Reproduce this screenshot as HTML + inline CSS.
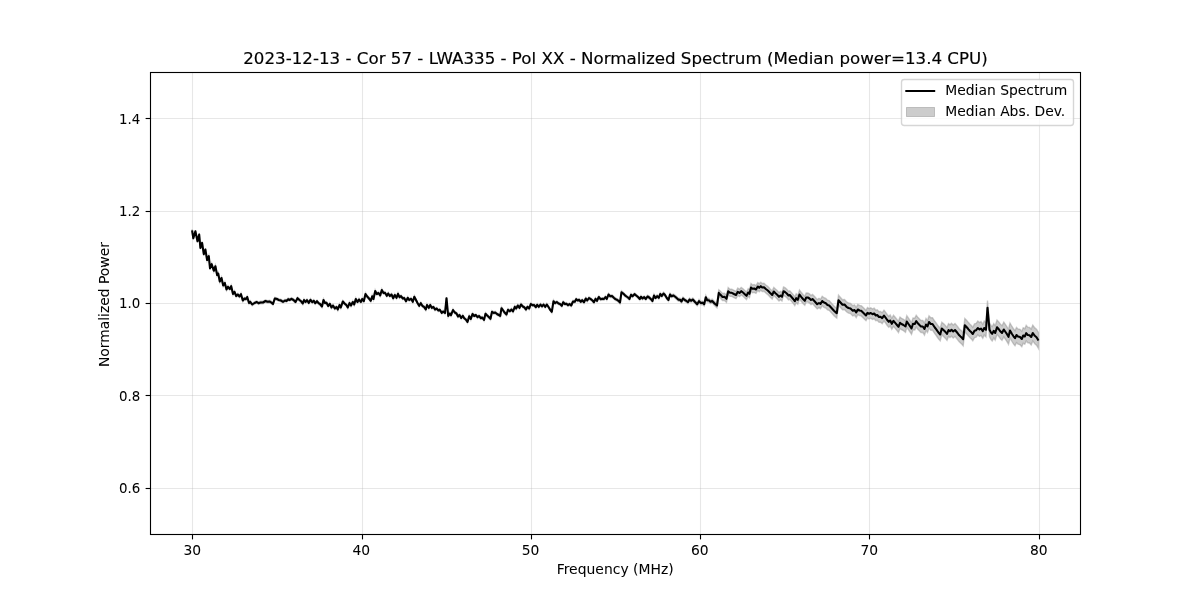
<!DOCTYPE html>
<html lang="en"><head><meta charset="utf-8"><title>Normalized Spectrum</title>
<style>html,body{margin:0;padding:0;background:#fff;width:1200px;height:600px;overflow:hidden}svg{display:block}text{font-family:"DejaVu Sans","Liberation Sans",sans-serif;fill:#000;stroke:#000;stroke-width:0.04px}</style></head><body>
<svg width="1200" height="600" viewBox="0 0 1200 600">
<rect width="1200" height="600" fill="#fff"/>
<clipPath id="c"><rect x="150" y="72" width="930" height="462"/></clipPath>
<g clip-path="url(#c)">
<polygon points="192.1,229.2 193.3,237.1 195.4,230.1 197.5,240.1 199.2,233.4 200.4,246.7 202.1,241.7 203.8,253.0 205.4,248.4 207.1,258.8 208.8,255.1 210.0,267.1 211.7,263.0 213.8,269.6 215.4,265.1 217.1,273.8 218.2,272.3 219.8,280.3 221.5,276.8 223.2,284.3 224.8,281.8 226.5,288.3 228.0,285.6 229.8,287.8 231.2,285.0 233.0,292.8 234.5,290.6 236.2,294.8 237.8,293.3 239.5,295.3 241.0,293.0 242.8,299.3 244.5,297.3 245.8,298.0 247.2,295.8 249.0,301.8 250.2,300.6 252.2,303.3 254.5,301.8 256.8,300.8 258.5,302.0 260.5,301.3 263.0,301.3 265.5,299.8 267.5,300.6 269.8,300.3 271.4,301.4 273.0,302.8 274.8,297.3 277.0,297.8 278.5,298.7 280.0,299.0 281.5,299.6 283.0,300.6 285.0,299.3 286.5,299.8 288.2,298.0 289.5,298.8 291.5,297.6 293.5,298.8 295.5,300.8 297.5,297.0 299.5,298.8 301.0,300.0 302.8,302.3 304.0,298.8 305.5,300.8 307.0,299.0 308.8,301.6 310.5,298.6 312.2,301.0 313.8,299.6 315.2,302.0 317.0,300.0 318.5,302.0 320.0,302.8 322.0,305.3 323.5,298.8 325.0,301.8 326.5,301.6 328.2,304.8 329.8,302.6 331.5,306.3 333.0,304.3 334.8,307.3 336.5,305.8 337.8,308.3 339.5,303.8 340.8,306.3 342.8,300.3 344.5,302.3 346.2,303.6 347.8,306.3 349.5,301.8 351.0,304.3 352.8,300.8 354.2,303.3 355.8,297.8 357.5,300.8 359.0,298.3 360.8,300.8 362.2,297.8 363.8,300.0 365.5,292.8 367.2,295.3 369.0,297.3 370.8,299.6 372.2,295.0 373.5,297.8 375.2,289.8 376.8,292.8 378.5,291.8 380.2,294.3 381.8,288.8 383.5,291.8 385.0,291.6 386.8,294.6 388.2,292.3 389.8,294.8 391.5,293.3 393.2,297.0 394.8,293.8 396.5,296.6 398.0,292.6 399.5,296.0 401.0,295.0 402.8,297.3 404.2,296.8 406.0,300.0 407.8,296.6 409.2,298.8 411.0,297.6 412.8,300.6 414.3,295.6 416.0,298.8 417.5,301.8 419.2,304.6 420.8,302.0 422.5,304.8 424.0,305.6 425.8,308.3 427.0,303.8 428.8,306.6 430.2,303.8 431.8,306.6 433.5,305.8 435.0,308.3 436.8,307.3 438.2,309.3 439.8,308.6 441.8,311.6 443.2,310.3 445.0,311.8 446.5,297.0 448.2,314.8 449.8,312.3 451.0,314.0 453.0,308.8 454.8,311.3 456.5,312.3 458.0,315.3 459.5,313.8 461.2,316.8 462.8,314.6 464.2,317.0 465.8,318.3 467.5,320.8 469.2,315.0 470.8,317.8 472.5,312.8 474.2,314.8 475.8,313.8 477.5,316.0 479.0,314.8 480.8,317.0 482.2,316.3 484.0,318.8 485.5,312.6 487.2,314.3 488.8,315.8 490.5,317.6 492.0,310.6 493.8,311.8 495.2,311.3 497.0,312.8 498.8,313.8 500.2,314.8 501.5,307.0 503.2,309.3 504.8,311.6 506.5,313.3 508.0,308.6 509.8,310.0 511.5,308.3 513.0,310.3 514.8,305.6 516.2,307.3 517.8,304.3 519.5,306.6 521.0,303.3 522.8,305.3 524.2,306.0 526.0,308.3 527.5,305.6 529.2,307.3 530.8,302.8 532.5,304.0 534.0,303.8 535.8,306.0 537.2,303.6 538.8,305.6 540.5,303.3 542.0,305.3 543.5,303.3 545.2,305.6 546.8,303.3 548.5,305.8 550.0,308.3 551.8,310.6 553.5,300.0 555.0,302.0 556.8,300.8 558.5,302.3 560.0,302.8 561.8,304.6 563.2,301.0 564.8,302.8 566.5,302.6 568.0,304.0 569.5,302.8 571.2,304.3 573.0,300.3 574.8,300.6 576.2,298.0 577.8,299.3 579.2,298.6 580.8,300.6 582.2,299.0 584.0,301.0 585.8,297.3 587.2,299.3 589.0,296.8 590.8,298.0 592.5,299.3 594.0,301.0 595.5,297.6 597.0,299.6 598.8,295.8 600.5,298.0 602.5,297.6 604.0,297.8 605.5,295.8 606.8,297.8 608.5,293.3 610.2,295.0 612.0,294.8 613.8,296.6 615.4,297.8 617.0,298.5 618.5,299.5 620.0,301.2 621.5,290.9 623.5,292.5 625.0,294.1 626.5,295.2 628.0,296.2 629.5,297.7 631.0,293.5 632.5,294.9 634.5,292.9 636.2,294.2 638.0,295.7 639.8,297.7 641.0,295.5 642.5,297.2 644.2,295.9 645.8,297.6 647.5,295.1 649.2,296.1 651.0,297.8 652.5,299.6 654.0,294.1 655.5,296.6 657.2,294.8 658.8,296.4 660.2,292.6 661.8,294.6 663.5,292.1 665.0,293.6 666.8,296.6 668.5,298.6 670.0,293.1 671.5,294.8 673.5,294.1 675.5,295.5 677.2,297.0 678.5,298.3 680.0,298.3 681.5,300.0 683.0,297.0 684.8,298.5 686.2,299.3 688.0,300.7 689.5,298.0 691.0,299.3 692.8,297.9 694.8,300.2 697.2,302.6 699.0,299.5 700.8,301.3 702.8,301.1 704.2,302.4 705.8,295.4 707.2,298.4 708.8,298.3 710.5,299.9 712.2,299.1 714.5,301.5 717.0,303.1 718.8,289.8 720.5,291.3 722.5,293.5 724.5,293.2 726.5,295.2 728.2,287.6 730.0,289.2 731.8,289.2 734.0,290.3 736.0,291.3 737.8,288.1 739.5,289.3 741.2,287.5 743.0,288.7 744.8,290.4 746.5,292.0 748.2,288.7 749.5,290.0 751.0,283.6 752.5,284.9 754.2,284.6 756.0,285.6 757.8,282.6 759.2,283.8 760.8,282.2 762.2,283.5 764.0,283.2 765.8,285.0 767.8,286.4 770.0,288.7 772.2,290.9 773.8,287.4 775.5,289.1 777.2,290.6 779.0,292.6 780.5,291.3 782.0,292.6 783.5,287.0 785.0,287.7 786.8,289.2 788.5,291.2 789.8,290.7 791.5,292.6 793.2,294.6 794.8,296.8 796.2,293.8 797.8,295.4 799.5,290.0 801.2,292.3 803.0,294.5 804.8,296.3 806.2,293.0 807.8,292.9 809.5,293.9 811.0,295.4 812.5,294.4 814.8,296.8 817.2,299.5 819.0,298.3 820.5,299.3 822.2,296.2 824.0,297.7 825.8,298.4 827.5,300.2 829.2,300.6 831.5,303.1 834.0,305.9 835.4,307.2 836.8,308.2 838.5,295.2 840.5,297.5 842.5,299.8 844.5,299.5 846.5,301.8 848.5,302.9 850.5,303.4 852.8,305.7 854.5,304.9 856.2,307.4 857.8,304.4 859.5,305.4 861.2,305.7 863.5,307.8 866.0,310.3 867.5,307.6 869.0,308.6 870.8,307.8 872.5,309.0 874.2,308.2 875.8,310.2 877.2,309.7 879.0,311.7 880.5,311.4 882.2,312.8 884.0,310.1 885.5,312.1 887.2,314.5 888.8,316.3 890.2,315.0 891.8,318.3 893.5,315.2 895.2,317.2 897.0,319.4 898.5,321.1 900.0,317.1 901.5,318.3 903.5,319.3 905.5,320.7 906.8,315.7 908.5,318.2 910.0,320.4 911.5,322.6 913.0,317.9 914.8,318.1 916.2,315.3 917.8,317.2 919.5,319.0 921.0,320.5 922.8,320.5 924.5,322.9 926.0,318.4 927.5,320.4 929.0,315.9 930.8,317.8 932.5,317.8 934.8,321.3 936.1,322.9 937.5,324.9 938.9,326.8 940.2,328.2 941.8,322.2 944.0,324.1 945.5,325.6 947.0,327.6 948.5,323.6 950.0,324.8 951.5,323.3 953.2,325.0 955.0,323.5 957.5,326.4 959.0,328.5 960.5,329.9 961.9,331.0 963.2,332.5 964.8,318.5 967.0,320.8 968.5,322.6 970.0,324.2 971.4,325.5 972.8,327.2 974.5,323.9 976.2,323.3 977.8,321.1 979.5,322.6 981.0,321.5 982.8,324.2 984.2,321.0 986.0,322.7 987.5,300.6 989.5,322.7 991.0,325.4 992.2,326.6 993.8,323.6 995.2,325.8 997.0,320.0 999.0,322.2 1000.5,324.3 1002.0,325.7 1003.8,322.1 1005.5,324.6 1007.0,326.8 1008.5,329.3 1010.0,323.0 1012.0,326.5 1013.5,328.8 1015.0,330.6 1016.5,327.4 1018.0,328.9 1020.0,329.3 1021.8,331.3 1023.2,327.8 1024.8,328.7 1026.2,325.4 1027.8,327.2 1029.5,327.4 1031.2,329.1 1032.8,325.1 1034.8,327.9 1036.5,329.2 1038.5,332.5 1038.5,348.5 1036.5,345.2 1034.8,343.7 1032.8,340.9 1031.2,344.9 1029.5,343.0 1027.8,342.8 1026.2,341.0 1024.8,344.3 1023.2,343.2 1021.8,346.7 1020.0,344.7 1018.0,344.1 1016.5,342.6 1015.0,345.8 1013.5,343.9 1012.0,341.5 1010.0,338.0 1008.5,344.3 1007.0,341.7 1005.5,339.4 1003.8,336.9 1002.0,340.3 1000.5,338.9 999.0,336.8 997.0,334.4 995.2,340.2 993.8,338.0 992.2,341.0 991.0,339.6 989.5,336.9 987.5,314.8 986.0,336.9 984.2,335.0 982.8,338.2 981.0,335.5 979.5,336.4 977.8,334.9 976.2,337.1 974.5,337.7 972.8,340.8 971.4,339.1 970.0,337.8 968.5,336.1 967.0,334.2 964.8,331.9 963.2,345.9 961.9,344.3 960.5,343.1 959.0,341.6 957.5,339.6 955.0,336.5 953.2,338.0 951.5,336.3 950.0,337.6 948.5,336.4 947.0,340.4 945.5,338.4 944.0,336.9 941.8,334.8 940.2,340.8 938.9,339.4 937.5,337.5 936.1,335.4 934.8,333.7 932.5,330.2 930.8,330.2 929.0,328.1 927.5,332.6 926.0,330.6 924.5,335.1 922.8,332.5 921.0,332.5 919.5,331.0 917.8,329.2 916.2,327.1 914.8,329.9 913.0,329.7 911.5,334.4 910.0,332.0 908.5,329.8 906.8,327.3 905.5,332.3 903.5,330.7 901.5,329.7 900.0,328.5 898.5,332.5 897.0,330.6 895.2,328.4 893.5,326.4 891.8,329.3 890.2,326.0 888.8,327.3 887.2,325.5 885.5,322.9 884.0,320.9 882.2,323.6 880.5,322.2 879.0,322.3 877.2,320.3 875.8,320.8 874.2,318.8 872.5,319.4 870.8,318.2 869.0,319.0 867.5,318.0 866.0,320.7 863.5,318.2 861.2,315.9 859.5,315.6 857.8,314.6 856.2,317.6 854.5,315.1 852.8,315.9 850.5,313.6 848.5,313.1 846.5,311.8 844.5,309.5 842.5,309.8 840.5,307.5 838.5,305.2 836.8,318.2 835.4,317.1 834.0,315.7 831.5,312.9 829.2,310.4 827.5,309.8 825.8,308.0 824.0,307.3 822.2,305.8 820.5,308.7 819.0,307.7 817.2,308.9 814.8,306.2 812.5,303.6 811.0,304.6 809.5,303.1 807.8,302.1 806.2,302.0 804.8,305.3 803.0,303.5 801.2,301.3 799.5,299.0 797.8,304.2 796.2,302.6 794.8,305.6 793.2,303.4 791.5,301.4 789.8,299.3 788.5,299.8 786.8,297.8 785.0,296.3 783.5,295.4 782.0,301.0 780.5,299.7 779.0,301.0 777.2,299.0 775.5,297.3 773.8,295.6 772.2,299.1 770.0,296.9 767.8,294.6 765.8,293.0 764.0,291.2 762.2,291.5 760.8,290.2 759.2,291.8 757.8,290.4 756.0,293.4 754.2,292.4 752.5,292.7 751.0,291.4 749.5,297.6 748.2,296.3 746.5,299.6 744.8,298.0 743.0,296.3 741.2,294.9 739.5,296.7 737.8,295.5 736.0,298.7 734.0,297.7 731.8,296.4 730.0,296.4 728.2,294.8 726.5,302.4 724.5,300.4 722.5,300.5 720.5,298.3 718.8,295.9 717.0,307.9 714.5,305.5 712.2,302.9 710.5,303.7 708.8,302.1 707.2,302.0 705.8,299.0 704.2,306.0 702.8,304.5 700.8,304.7 699.0,302.9 697.2,305.8 694.8,303.4 692.8,301.1 691.0,302.3 689.5,301.0 688.0,303.7 686.2,302.3 684.8,301.5 683.0,300.0 681.5,303.0 680.0,301.3 678.5,301.3 677.2,300.0 675.5,298.5 673.5,296.9 671.5,297.6 670.0,295.9 668.5,301.4 666.8,299.4 665.0,296.4 663.5,294.9 661.8,297.4 660.2,295.4 658.8,299.2 657.2,297.6 655.5,299.4 654.0,296.9 652.5,302.4 651.0,300.6 649.2,298.9 647.5,297.9 645.8,300.4 644.2,298.5 642.5,299.8 641.0,298.1 639.8,300.3 638.0,298.3 636.2,296.8 634.5,295.5 632.5,297.5 631.0,296.1 629.5,300.3 628.0,298.8 626.5,297.8 625.0,296.7 623.5,295.1 621.5,293.5 620.0,303.8 618.5,302.1 617.0,301.1 615.4,300.3 613.8,299.0 612.0,297.2 610.2,297.4 608.5,295.7 606.8,300.2 605.5,298.2 604.0,300.2 602.5,300.0 600.5,300.4 598.8,298.2 597.0,302.0 595.5,300.0 594.0,303.4 592.5,301.7 590.8,300.4 589.0,299.2 587.2,301.7 585.8,299.7 584.0,303.4 582.2,301.4 580.8,303.0 579.2,301.0 577.8,301.7 576.2,300.4 574.8,303.0 573.0,302.7 571.2,306.7 569.5,305.2 568.0,306.4 566.5,305.0 564.8,305.2 563.2,303.4 561.8,307.0 560.0,305.2 558.5,304.7 556.8,303.2 555.0,304.4 553.5,302.4 551.8,313.0 550.0,310.7 548.5,308.2 546.8,305.7 545.2,308.0 543.5,305.7 542.0,307.7 540.5,305.7 538.8,308.0 537.2,306.0 535.8,308.4 534.0,306.2 532.5,306.4 530.8,305.2 529.2,309.7 527.5,308.0 526.0,310.7 524.2,308.4 522.8,307.7 521.0,305.7 519.5,309.0 517.8,306.7 516.2,309.7 514.8,308.0 513.0,312.7 511.5,310.7 509.8,312.4 508.0,311.0 506.5,315.7 504.8,314.0 503.2,311.7 501.5,309.4 500.2,317.2 498.8,316.2 497.0,315.2 495.2,313.7 493.8,314.2 492.0,313.0 490.5,320.0 488.8,318.2 487.2,316.7 485.5,315.0 484.0,321.2 482.2,318.7 480.8,319.4 479.0,317.2 477.5,318.4 475.8,316.2 474.2,317.2 472.5,315.2 470.8,320.2 469.2,317.4 467.5,323.2 465.8,320.7 464.2,319.4 462.8,317.0 461.2,319.2 459.5,316.2 458.0,317.7 456.5,314.7 454.8,313.7 453.0,311.2 451.0,316.4 449.8,314.7 448.2,317.2 446.5,299.4 445.0,314.2 443.2,312.7 441.8,314.0 439.8,311.0 438.2,311.7 436.8,309.7 435.0,310.7 433.5,308.2 431.8,309.0 430.2,306.2 428.8,309.0 427.0,306.2 425.8,310.7 424.0,308.0 422.5,307.2 420.8,304.4 419.2,307.0 417.5,304.2 416.0,301.2 414.3,298.0 412.8,303.0 411.0,300.0 409.2,301.2 407.8,299.0 406.0,302.4 404.2,299.2 402.8,299.7 401.0,297.4 399.5,298.4 398.0,295.0 396.5,299.0 394.8,296.2 393.2,299.4 391.5,295.7 389.8,297.2 388.2,294.7 386.8,297.0 385.0,294.0 383.5,294.2 381.8,291.2 380.2,296.7 378.5,294.2 376.8,295.2 375.2,292.2 373.5,300.2 372.2,297.4 370.8,302.0 369.0,299.7 367.2,297.7 365.5,295.2 363.8,302.4 362.2,300.2 360.8,303.2 359.0,300.7 357.5,303.2 355.8,300.2 354.2,305.7 352.8,303.2 351.0,306.7 349.5,304.2 347.8,308.7 346.2,306.0 344.5,304.7 342.8,302.7 340.8,308.7 339.5,306.2 337.8,310.7 336.5,308.2 334.8,309.7 333.0,306.7 331.5,308.7 329.8,305.0 328.2,307.2 326.5,304.0 325.0,304.2 323.5,301.2 322.0,307.7 320.0,305.2 318.5,304.4 317.0,302.4 315.2,304.4 313.8,302.0 312.2,303.4 310.5,301.0 308.8,304.0 307.0,301.4 305.5,303.2 304.0,301.2 302.8,304.7 301.0,302.4 299.5,301.2 297.5,299.4 295.5,303.2 293.5,301.2 291.5,300.0 289.5,301.2 288.2,300.4 286.5,302.2 285.0,301.7 283.0,303.0 281.5,302.0 280.0,301.4 278.5,301.1 277.0,300.2 274.8,299.7 273.0,305.2 271.4,303.8 269.8,302.7 267.5,303.0 265.5,302.2 263.0,303.7 260.5,303.7 258.5,304.4 256.8,303.2 254.5,304.2 252.2,305.7 250.2,303.0 249.0,304.2 247.2,298.2 245.8,300.4 244.5,299.7 242.8,301.7 241.0,295.4 239.5,297.7 237.8,295.7 236.2,297.2 234.5,293.0 233.0,295.2 231.2,287.4 229.8,290.2 228.0,288.0 226.5,290.7 224.8,284.2 223.2,286.7 221.5,279.2 219.8,282.7 218.2,274.7 217.1,276.2 215.4,267.4 213.8,272.0 211.7,265.4 210.0,269.5 208.8,257.4 207.1,261.2 205.4,250.8 203.8,255.4 202.1,244.1 200.4,249.1 199.2,235.8 197.5,242.4 195.4,232.4 193.3,239.5 192.1,231.6" fill="#808080" fill-opacity="0.4" stroke="#808080" stroke-opacity="0.4" stroke-width="1.39" stroke-linejoin="miter"/>
<g stroke="#b0b0b0" stroke-opacity="0.3" stroke-width="1.11">
<line x1="192.5" y1="72" x2="192.5" y2="534"/>
<line x1="362.5" y1="72" x2="362.5" y2="534"/>
<line x1="531.5" y1="72" x2="531.5" y2="534"/>
<line x1="700.5" y1="72" x2="700.5" y2="534"/>
<line x1="869.5" y1="72" x2="869.5" y2="534"/>
<line x1="1039.5" y1="72" x2="1039.5" y2="534"/>
<line x1="150" y1="488.5" x2="1080" y2="488.5"/>
<line x1="150" y1="395.5" x2="1080" y2="395.5"/>
<line x1="150" y1="303.5" x2="1080" y2="303.5"/>
<line x1="150" y1="211.5" x2="1080" y2="211.5"/>
<line x1="150" y1="118.5" x2="1080" y2="118.5"/>
</g>
<polyline points="192.1,230.4 193.3,238.3 195.4,231.2 197.5,241.2 199.2,234.6 200.4,247.9 202.1,242.9 203.8,254.2 205.4,249.6 207.1,260.0 208.8,256.2 210.0,268.3 211.7,264.2 213.8,270.8 215.4,266.2 217.1,275.0 218.2,273.5 219.8,281.5 221.5,278.0 223.2,285.5 224.8,283.0 226.5,289.5 228.0,286.8 229.8,289.0 231.2,286.2 233.0,294.0 234.5,291.8 236.2,296.0 237.8,294.5 239.5,296.5 241.0,294.2 242.8,300.5 244.5,298.5 245.8,299.2 247.2,297.0 249.0,303.0 250.2,301.8 252.2,304.5 254.5,303.0 256.8,302.0 258.5,303.2 260.5,302.5 263.0,302.5 265.5,301.0 267.5,301.8 269.8,301.5 271.4,302.6 273.0,304.0 274.8,298.5 277.0,299.0 278.5,299.9 280.0,300.2 281.5,300.8 283.0,301.8 285.0,300.5 286.5,301.0 288.2,299.2 289.5,300.0 291.5,298.8 293.5,300.0 295.5,302.0 297.5,298.2 299.5,300.0 301.0,301.2 302.8,303.5 304.0,300.0 305.5,302.0 307.0,300.2 308.8,302.8 310.5,299.8 312.2,302.2 313.8,300.8 315.2,303.2 317.0,301.2 318.5,303.2 320.0,304.0 322.0,306.5 323.5,300.0 325.0,303.0 326.5,302.8 328.2,306.0 329.8,303.8 331.5,307.5 333.0,305.5 334.8,308.5 336.5,307.0 337.8,309.5 339.5,305.0 340.8,307.5 342.8,301.5 344.5,303.5 346.2,304.8 347.8,307.5 349.5,303.0 351.0,305.5 352.8,302.0 354.2,304.5 355.8,299.0 357.5,302.0 359.0,299.5 360.8,302.0 362.2,299.0 363.8,301.2 365.5,294.0 367.2,296.5 369.0,298.5 370.8,300.8 372.2,296.2 373.5,299.0 375.2,291.0 376.8,294.0 378.5,293.0 380.2,295.5 381.8,290.0 383.5,293.0 385.0,292.8 386.8,295.8 388.2,293.5 389.8,296.0 391.5,294.5 393.2,298.2 394.8,295.0 396.5,297.8 398.0,293.8 399.5,297.2 401.0,296.2 402.8,298.5 404.2,298.0 406.0,301.2 407.8,297.8 409.2,300.0 411.0,298.8 412.8,301.8 414.3,296.8 416.0,300.0 417.5,303.0 419.2,305.8 420.8,303.2 422.5,306.0 424.0,306.8 425.8,309.5 427.0,305.0 428.8,307.8 430.2,305.0 431.8,307.8 433.5,307.0 435.0,309.5 436.8,308.5 438.2,310.5 439.8,309.8 441.8,312.8 443.2,311.5 445.0,313.0 446.5,298.2 448.2,316.0 449.8,313.5 451.0,315.2 453.0,310.0 454.8,312.5 456.5,313.5 458.0,316.5 459.5,315.0 461.2,318.0 462.8,315.8 464.2,318.2 465.8,319.5 467.5,322.0 469.2,316.2 470.8,319.0 472.5,314.0 474.2,316.0 475.8,315.0 477.5,317.2 479.0,316.0 480.8,318.2 482.2,317.5 484.0,320.0 485.5,313.8 487.2,315.5 488.8,317.0 490.5,318.8 492.0,311.8 493.8,313.0 495.2,312.5 497.0,314.0 498.8,315.0 500.2,316.0 501.5,308.2 503.2,310.5 504.8,312.8 506.5,314.5 508.0,309.8 509.8,311.2 511.5,309.5 513.0,311.5 514.8,306.8 516.2,308.5 517.8,305.5 519.5,307.8 521.0,304.5 522.8,306.5 524.2,307.2 526.0,309.5 527.5,306.8 529.2,308.5 530.8,304.0 532.5,305.2 534.0,305.0 535.8,307.2 537.2,304.8 538.8,306.8 540.5,304.5 542.0,306.5 543.5,304.5 545.2,306.8 546.8,304.5 548.5,307.0 550.0,309.5 551.8,311.8 553.5,301.2 555.0,303.2 556.8,302.0 558.5,303.5 560.0,304.0 561.8,305.8 563.2,302.2 564.8,304.0 566.5,303.8 568.0,305.2 569.5,304.0 571.2,305.5 573.0,301.5 574.8,301.8 576.2,299.2 577.8,300.5 579.2,299.8 580.8,301.8 582.2,300.2 584.0,302.2 585.8,298.5 587.2,300.5 589.0,298.0 590.8,299.2 592.5,300.5 594.0,302.2 595.5,298.8 597.0,300.8 598.8,297.0 600.5,299.2 602.5,298.8 604.0,299.0 605.5,297.0 606.8,299.0 608.5,294.5 610.2,296.2 612.0,296.0 613.8,297.8 615.4,299.1 617.0,299.8 618.5,300.8 620.0,302.5 621.5,292.2 623.5,293.8 625.0,295.4 626.5,296.5 628.0,297.5 629.5,299.0 631.0,294.8 632.5,296.2 634.5,294.2 636.2,295.5 638.0,297.0 639.8,299.0 641.0,296.8 642.5,298.5 644.2,297.2 645.8,299.0 647.5,296.5 649.2,297.5 651.0,299.2 652.5,301.0 654.0,295.5 655.5,298.0 657.2,296.2 658.8,297.8 660.2,294.0 661.8,296.0 663.5,293.5 665.0,295.0 666.8,298.0 668.5,300.0 670.0,294.5 671.5,296.2 673.5,295.5 675.5,297.0 677.2,298.5 678.5,299.8 680.0,299.8 681.5,301.5 683.0,298.5 684.8,300.0 686.2,300.8 688.0,302.2 689.5,299.5 691.0,300.8 692.8,299.5 694.8,301.8 697.2,304.2 699.0,301.2 700.8,303.0 702.8,302.8 704.2,304.2 705.8,297.2 707.2,300.2 708.8,300.2 710.5,301.8 712.2,301.0 714.5,303.5 717.0,305.5 718.8,292.8 720.5,294.8 722.5,297.0 724.5,296.8 726.5,298.8 728.2,291.2 730.0,292.8 731.8,292.8 734.0,294.0 736.0,295.0 737.8,291.8 739.5,293.0 741.2,291.2 743.0,292.5 744.8,294.2 746.5,295.8 748.2,292.5 749.5,293.8 751.0,287.5 752.5,288.8 754.2,288.5 756.0,289.5 757.8,286.5 759.2,287.8 760.8,286.2 762.2,287.5 764.0,287.2 765.8,289.0 767.8,290.5 770.0,292.8 772.2,295.0 773.8,291.5 775.5,293.2 777.2,294.8 779.0,296.8 780.5,295.5 782.0,296.8 783.5,291.2 785.0,292.0 786.8,293.5 788.5,295.5 789.8,295.0 791.5,297.0 793.2,299.0 794.8,301.2 796.2,298.2 797.8,299.8 799.5,294.5 801.2,296.8 803.0,299.0 804.8,300.8 806.2,297.5 807.8,297.5 809.5,298.5 811.0,300.0 812.5,299.0 814.8,301.5 817.2,304.2 819.0,303.0 820.5,304.0 822.2,301.0 824.0,302.5 825.8,303.2 827.5,305.0 829.2,305.5 831.5,308.0 834.0,310.8 835.4,312.1 836.8,313.2 838.5,300.2 840.5,302.5 842.5,304.8 844.5,304.5 846.5,306.8 848.5,308.0 850.5,308.5 852.8,310.8 854.5,310.0 856.2,312.5 857.8,309.5 859.5,310.5 861.2,310.8 863.5,313.0 866.0,315.5 867.5,312.8 869.0,313.8 870.8,313.0 872.5,314.2 874.2,313.5 875.8,315.5 877.2,315.0 879.0,317.0 880.5,316.8 882.2,318.2 884.0,315.5 885.5,317.5 887.2,320.0 888.8,321.8 890.2,320.5 891.8,323.8 893.5,320.8 895.2,322.8 897.0,325.0 898.5,326.8 900.0,322.8 901.5,324.0 903.5,325.0 905.5,326.5 906.8,321.5 908.5,324.0 910.0,326.2 911.5,328.5 913.0,323.8 914.8,324.0 916.2,321.2 917.8,323.2 919.5,325.0 921.0,326.5 922.8,326.5 924.5,329.0 926.0,324.5 927.5,326.5 929.0,322.0 930.8,324.0 932.5,324.0 934.8,327.5 936.1,329.2 937.5,331.2 938.9,333.1 940.2,334.5 941.8,328.5 944.0,330.5 945.5,332.0 947.0,334.0 948.5,330.0 950.0,331.2 951.5,329.8 953.2,331.5 955.0,330.0 957.5,333.0 959.0,335.1 960.5,336.5 961.9,337.7 963.2,339.2 964.8,325.2 967.0,327.5 968.5,329.4 970.0,331.0 971.4,332.3 972.8,334.0 974.5,330.8 976.2,330.2 977.8,328.0 979.5,329.5 981.0,328.5 982.8,331.2 984.2,328.0 986.0,329.8 987.5,307.7 989.5,329.8 991.0,332.5 992.2,333.8 993.8,330.8 995.2,333.0 997.0,327.2 999.0,329.5 1000.5,331.6 1002.0,333.0 1003.8,329.5 1005.5,332.0 1007.0,334.2 1008.5,336.8 1010.0,330.5 1012.0,334.0 1013.5,336.3 1015.0,338.2 1016.5,335.0 1018.0,336.5 1020.0,337.0 1021.8,339.0 1023.2,335.5 1024.8,336.5 1026.2,333.2 1027.8,335.0 1029.5,335.2 1031.2,337.0 1032.8,333.0 1034.8,335.8 1036.5,337.2 1038.5,340.5" fill="none" stroke="#000" stroke-width="2.08" stroke-linejoin="round" stroke-linecap="butt"/>
</g>
<g stroke="#000" stroke-width="1.11">
<line x1="192.5" y1="534.5" x2="192.5" y2="539.40"/>
<line x1="362.5" y1="534.5" x2="362.5" y2="539.40"/>
<line x1="531.5" y1="534.5" x2="531.5" y2="539.40"/>
<line x1="700.5" y1="534.5" x2="700.5" y2="539.40"/>
<line x1="869.5" y1="534.5" x2="869.5" y2="539.40"/>
<line x1="1039.5" y1="534.5" x2="1039.5" y2="539.40"/>
<line x1="145.60" y1="488.5" x2="150.5" y2="488.5"/>
<line x1="145.60" y1="395.5" x2="150.5" y2="395.5"/>
<line x1="145.60" y1="303.5" x2="150.5" y2="303.5"/>
<line x1="145.60" y1="211.5" x2="150.5" y2="211.5"/>
<line x1="145.60" y1="118.5" x2="150.5" y2="118.5"/>
</g>
<rect x="150.5" y="72.5" width="930" height="462" fill="none" stroke="#000" stroke-width="1.11"/>
<g font-size="13.89">
<text x="192.30" y="555.3" text-anchor="middle">30</text>
<text x="361.37" y="555.3" text-anchor="middle">40</text>
<text x="530.49" y="555.3" text-anchor="middle">50</text>
<text x="699.71" y="555.3" text-anchor="middle">60</text>
<text x="869.38" y="555.3" text-anchor="middle">70</text>
<text x="1038.85" y="555.3" text-anchor="middle">80</text>
<text x="140.2" y="493.10" text-anchor="end" textLength="21.3" lengthAdjust="spacingAndGlyphs">0.6</text>
<text x="140.2" y="400.70" text-anchor="end" textLength="21.3" lengthAdjust="spacingAndGlyphs">0.8</text>
<text x="140.2" y="308.30" text-anchor="end" textLength="21.3" lengthAdjust="spacingAndGlyphs">1.0</text>
<text x="140.2" y="215.90" text-anchor="end" textLength="21.3" lengthAdjust="spacingAndGlyphs">1.2</text>
<text x="140.2" y="123.50" text-anchor="end" textLength="21.3" lengthAdjust="spacingAndGlyphs">1.4</text>
<text x="615.2" y="574" text-anchor="middle" textLength="117.1" lengthAdjust="spacing">Frequency (MHz)</text>
<text transform="translate(108.5,304.6) rotate(-90)" text-anchor="middle">Normalized Power</text>
</g>
<text x="615.5" y="63.7" style="stroke-width:0.17px" font-size="16.67" text-anchor="middle" textLength="744.5" lengthAdjust="spacing">2023-12-13 - Cor 57 - LWA335 - Pol XX - Normalized Spectrum (Median power=13.4 CPU)</text>
<rect x="901.5" y="79.5" width="172" height="46" rx="2.78" ry="2.78" fill="#fff" fill-opacity="0.8" stroke="#ccc" stroke-opacity="0.8" stroke-width="1.39"/>
<line x1="906.3" y1="91" x2="934.2" y2="91" stroke="#000" stroke-width="2" stroke-linecap="square"/>
<rect x="906.5" y="107.5" width="28" height="9" fill="#808080" fill-opacity="0.4" stroke="#808080" stroke-opacity="0.4" stroke-width="1"/>
<g font-size="13.89"><text x="945.25" y="94.6">Median Spectrum</text><text x="945.25" y="116.4">Median Abs. Dev.</text></g>
</svg></body></html>
